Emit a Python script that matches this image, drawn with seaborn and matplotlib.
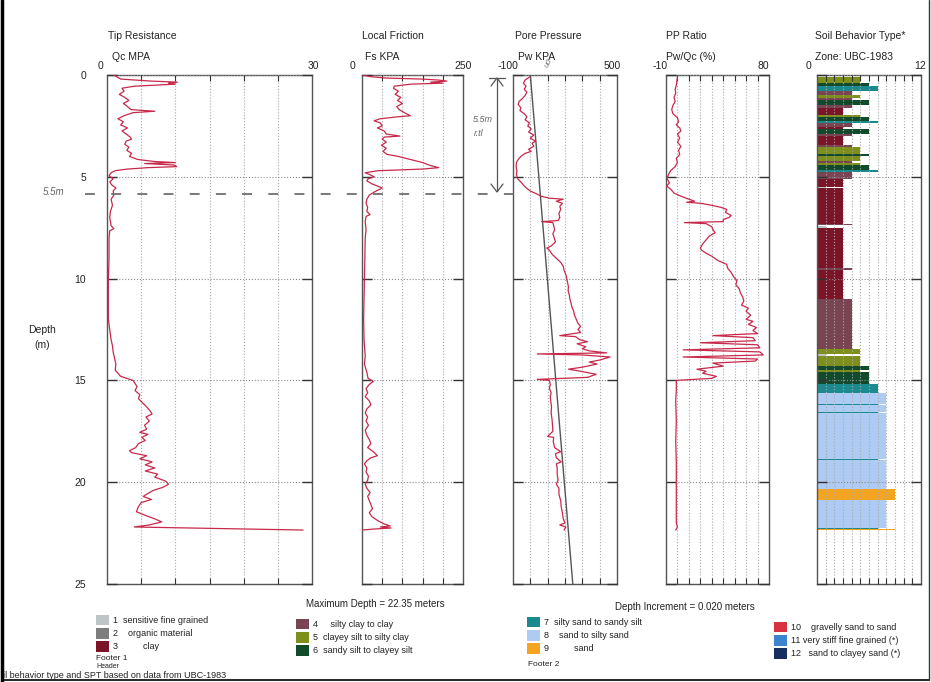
#%% Preparations
import pandas as pd
import matplotlib
matplotlib.use("Agg")
import matplotlib.pyplot as plt
import matplotlib.transforms as mtransforms
from matplotlib.lines import Line2D
from matplotlib.patches import Patch
import seaborn as sns

#%% data read off the log

# tip resistance Qc (MPa)
qc_depth = [0.00, 0.10, 0.20, 0.30, 0.35, 0.40, 0.45, 0.55, 0.65, 0.80, 0.95, 1.10, 1.25, 1.40,
            1.55, 1.70, 1.78, 1.85, 2.00, 2.15, 2.30, 2.45, 2.60, 2.75, 2.90, 3.05, 3.15, 3.25,
            3.40, 3.55, 3.70, 3.85, 4.00, 4.15, 4.25, 4.30, 4.35, 4.42, 4.50, 4.55, 4.62, 4.70,
            4.80, 4.95, 5.10, 5.25, 5.40, 5.55, 5.70, 5.90, 6.10, 6.40, 6.70, 7.00, 7.40, 7.55,
            7.65, 8.00, 9.00, 10.00, 11.00, 12.00, 12.50, 13.00, 13.30, 13.60, 13.90, 14.20,
            14.50, 14.80, 15.00, 15.10, 15.30, 15.50, 15.70, 15.90, 16.10, 16.30, 16.50, 16.65,
            16.80, 17.00, 17.20, 17.40, 17.55, 17.65, 17.80, 17.95, 18.10, 18.30, 18.45, 18.55,
            18.70, 18.85, 19.00, 19.15, 19.30, 19.45, 19.60, 19.75, 19.95, 20.10, 20.25, 20.40,
            20.55, 20.70, 20.85, 21.00, 21.20, 21.45, 21.60, 21.80, 21.95, 22.10, 22.20, 22.35]
qc_val = [1.0, 1.5, 2.0, 6.5, 10.3, 9.0, 10.0, 4.0, 2.2, 2.5, 1.8, 2.6, 3.2, 2.4,
          3.0, 3.5, 7.0, 3.8, 2.5, 1.6, 2.4, 2.0, 3.0, 2.2, 2.8, 3.4, 3.6, 2.8,
          2.6, 3.2, 2.9, 3.6, 3.3, 4.5, 7.0, 10.0, 5.5, 9.8, 10.2, 6.0, 3.0, 1.2,
          0.6, 0.3, 0.9, 0.4, 0.7, 1.3, 0.9, 1.0, 0.6, 0.8, 0.5, 0.4, 0.6, 1.0,
          0.4, 0.3, 0.3, 0.2, 0.2, 0.2, 0.4, 0.6, 0.8, 0.9, 1.1, 1.3,
          1.2, 2.0, 3.8, 4.0, 4.4, 4.1, 4.8, 4.6, 5.2, 5.8, 6.3, 6.6,
          5.7, 6.2, 5.5, 5.8, 4.8, 6.0, 5.1, 5.6, 4.6, 4.2, 3.3, 3.6,
          5.8, 4.8, 6.6, 5.6, 7.0, 5.6, 7.4, 7.0, 8.6, 9.0, 8.2, 6.8,
          6.0, 5.3, 6.5, 5.0, 4.6, 4.3, 5.4, 7.0, 8.0, 6.2, 4.0, 28.7]

# local friction Fs (kPa)
fs_depth = [0.00, 0.08, 0.15, 0.20, 0.25, 0.30, 0.35, 0.40, 0.45, 0.55, 0.65, 0.80, 0.95, 1.10,
            1.25, 1.40, 1.55, 1.70, 1.85, 2.00, 2.05, 2.15, 2.25, 2.35, 2.50, 2.60, 2.75, 2.90,
            3.00, 3.05, 3.15, 3.30, 3.45, 3.60, 3.75, 3.90, 4.00, 4.15, 4.30, 4.45, 4.55, 4.62,
            4.70, 4.80, 4.90, 5.00, 5.10, 5.20, 5.35, 5.45, 5.55, 5.65, 5.75, 5.90, 6.10, 6.30,
            6.50, 6.70, 6.85, 6.95, 7.20, 7.60, 8.00, 9.00, 10.00, 11.00, 12.00, 13.00, 13.80,
            14.20, 14.60, 14.90, 15.05, 15.20, 15.40, 15.60, 15.80, 16.00, 16.20, 16.40, 16.60,
            16.80, 17.00, 17.20, 17.45, 17.70, 17.90, 18.10, 18.30, 18.50, 18.70, 18.80, 18.95,
            19.10, 19.30, 19.50, 19.70, 19.90, 20.10, 20.30, 20.50, 20.70, 20.90, 21.10, 21.30,
            21.50, 21.70, 21.90, 22.05, 22.15, 22.20, 22.25, 22.30, 22.35]
fs_val = [2, 20, 60, 150, 190, 210, 170, 200, 120, 80, 78, 90, 82, 96,
          88, 100, 86, 92, 105, 120, 90, 45, 30, 45, 50, 38, 55, 60,
          94, 55, 50, 60, 48, 60, 52, 62, 90, 120, 150, 170, 190, 150,
          40, 8, 20, 30, 15, 12, 25, 38, 50, 40, 30, 18, 12, 10,
          14, 12, 20, 10, 8, 10, 8, 7, 6, 5, 4, 5, 8,
          6, 12, 15, 28, 18, 10, 14, 8, 18, 22, 12, 8,
          14, 10, 16, 8, 12, 18, 22, 14, 28, 38, 22, 12,
          6, 12, 10, 16, 14, 8, 12, 20, 14, 18, 22, 26,
          18, 25, 40, 55, 70, 45, 72, 30, 0]

# pore pressure Pw (kPa)
pw_depth = [0.10, 0.25, 0.40, 0.55, 0.70, 0.85, 1.00, 1.15, 1.30, 1.45, 1.60, 1.75, 1.90, 2.05,
            2.20, 2.35, 2.50, 2.65, 2.80, 2.95, 3.10, 3.25, 3.35, 3.50, 3.65, 3.75, 3.85, 4.00,
            4.15, 4.30, 4.50, 4.70, 4.90, 5.10, 5.30, 5.50, 5.70, 5.85, 5.95, 6.05, 6.10, 6.20,
            6.30, 6.45, 6.60, 6.80, 7.00, 7.15, 7.20, 7.25, 7.40, 7.60, 7.80, 8.00, 8.20, 8.40,
            8.50, 8.60, 8.80, 9.00, 9.20, 9.40, 9.60, 9.80, 10.00, 10.20, 10.40, 10.60, 10.80,
            11.00, 11.20, 11.40, 11.60, 11.80, 12.00, 12.20, 12.35, 12.50, 12.65, 12.80, 12.85,
            13.00, 13.10, 13.20, 13.35, 13.45, 13.55, 13.65, 13.70, 13.75, 13.85, 14.00, 14.10,
            14.20, 14.35, 14.45, 14.55, 14.70, 14.85, 14.95, 15.00, 15.20, 15.40, 15.60, 15.80,
            16.00, 16.30, 16.60, 16.90, 17.20, 17.50, 17.75, 17.80, 18.00, 18.30, 18.50, 18.60,
            18.80, 19.00, 19.10, 19.30, 19.60, 19.90, 20.10, 20.30, 20.60, 20.90, 21.20, 21.50,
            21.80, 22.00, 22.10, 22.20, 22.35]
pw_val = [-5, -30, -40, -25, -35, -20, -30, -45, -65, -70, -55, -60, -35, -20,
          -30, -5, -15, 5, -10, 20, 0, 30, 10, 20, -10, 5, -30, -55,
          -70, -80, -82, -78, -80, -72, -50, -30, 0, 40, 60, 110, 190, 150,
          185, 170, 175, 165, 170, 160, 65, 130, 135, 140, 130, 138, 145, 120,
          95, 110, 125, 150, 175, 190, 195, 205, 210, 215, 220, 218, 225,
          228, 235, 240, 250, 255, 265, 275, 290, 275, 290, 170, 260,
          285, 330, 270, 320, 300, 340, 440, 40, 300, 460, 400, 340,
          385, 300, 220, 290, 380, 330, 40, 110, 115, 110, 120, 115,
          118, 122, 120, 125, 128, 130, 100, 135, 132, 140, 175, 145,
          150, 178, 150, 155, 155, 160, 150, 165, 165, 175, 178, 185,
          190, 200, 170, 205, 195]

# hydrostatic line u0 (kPa)
u0_depth = [0, 25]
u0_val = [0, 245]

# pore pressure ratio Pw/Qc (%)
ppr_depth = [0.10, 0.30, 0.50, 0.70, 0.90, 1.10, 1.30, 1.50, 1.70, 1.90, 2.10, 2.30, 2.45, 2.60,
             2.75, 2.90, 3.10, 3.30, 3.50, 3.70, 3.90, 4.10, 4.30, 4.50, 4.70, 4.90, 5.10, 5.30,
             5.45, 5.60, 5.80, 5.95, 6.10, 6.20, 6.25, 6.30, 6.40, 6.50, 6.60, 6.75, 6.90, 7.00,
             7.10, 7.20, 7.25, 7.30, 7.45, 7.60, 7.75, 7.90, 8.10, 8.30, 8.50, 8.60, 8.75, 8.90,
             9.10, 9.30, 9.50, 9.70, 9.90, 10.10, 10.30, 10.50, 10.70, 10.90, 11.10, 11.30, 11.45,
             11.60, 11.80, 12.00, 12.10, 12.25, 12.40, 12.55, 12.70, 12.80, 12.90, 13.05, 13.15,
             13.25, 13.40, 13.50, 13.60, 13.75, 13.85, 13.95, 14.05, 14.15, 14.30, 14.45, 14.55,
             14.65, 14.80, 14.90, 15.00, 15.50, 16.00, 17.00, 18.00, 19.00, 20.00, 21.00, 22.00,
             22.20, 22.35]
ppr_val = [0, -0.5, -1, -2, -1.5, -3, -2, -4, -5, -4, 0, 1, -1, 2,
           3, 0, 2, 0, 3, 1, 2, -1, 0, -2, -6, -8, -9, -7,
           -9.5, -6, -3, 3, 10, 15, 8, 20, 30, 38, 43, 42, 47, 45,
           40, 40, 6, 25, 30, 31, 33, 28, 25, 22, 20, 21, 25, 30,
           35, 43, 44, 47, 49, 52, 51, 54, 55, 57, 58, 56, 62,
           60, 64, 60, 66, 62, 69, 66, 70, 31, 66, 68, 20,
           70, 72, 5, 72, 75, 5, 70, 68, 31, 40, 17, 25,
           22, 34, 30, -1, -1, -1.5, -1, -1.5, -1, -1, -1, -1,
           0, -1.5]

# soil behaviour type layers: top, bottom (m) and zone
sbt_top = [0.10, 0.40, 0.55, 0.80, 1.00, 1.15, 1.25, 1.45, 1.60, 1.95, 2.05, 2.25, 2.35, 2.55,
           2.65, 2.90, 3.00, 3.45, 3.55, 3.90, 4.00, 4.20, 4.30, 4.40, 4.65, 4.75, 5.10, 5.50,
           5.55, 7.30, 7.40, 7.50, 9.50, 9.58, 11.00, 13.45, 13.70, 13.78, 14.30, 14.50, 14.60,
           15.20, 15.60, 16.15, 16.22, 16.55, 16.62, 18.85, 18.92, 20.35, 20.85, 22.25, 22.30]
sbt_bottom = [0.40, 0.55, 0.80, 1.00, 1.15, 1.25, 1.45, 1.60, 1.95, 2.05, 2.25, 2.35, 2.55, 2.65,
              2.90, 3.00, 3.45, 3.55, 3.90, 4.00, 4.20, 4.30, 4.40, 4.65, 4.75, 5.10, 5.50, 5.55,
              7.30, 7.38, 7.50, 9.50, 9.58, 11.00, 13.45, 13.70, 13.78, 14.30, 14.50, 14.60, 15.20,
              15.60, 16.15, 16.22, 16.55, 16.62, 18.85, 18.92, 20.35, 20.85, 22.25, 22.30, 22.35]
sbt_zone = [5, 6, 7, 4, 5, 4, 6, 4, 3, 5, 6, 7, 4, 3,
            6, 4, 3, 4, 5, 6, 5, 4, 5, 6, 7, 4, 3, 1,
            3, 4, 1, 3, 4, 3, 4, 5, 1, 5, 6, 5, 6,
            7, 8, 7, 8, 7, 8, 7, 8, 9, 8, 7, 9]

zone_labels = ["1  sensitive fine grained", "2    organic material", "3          clay",
               "4     silty clay to clay", "5  clayey silt to silty clay", "6  sandy silt to clayey silt",
               "7  silty sand to sandy silt", "8    sand to silty sand", "9          sand",
               "10    gravelly sand to sand", "11 very stiff fine grained (*)", "12   sand to clayey sand (*)"]
zone_colors = ["#BFC4C6", "#7D7D7D", "#7A1426", "#7A4552", "#7E8F1C", "#124A2C",
               "#1B8A8E", "#AECBF3", "#F5A420", "#D7323F", "#3C84CE", "#15305E"]

titles = ["Tip Resistance", "Local Friction", "Pore Pressure", "PP Ratio", "Soil Behavior Type*"]
units = ["Qc MPA", "Fs KPA", "Pw KPA", "Pw/Qc (%)", "Zone: UBC-1983"]
x_limits = [(0, 30), (0, 250), (-100, 500), (-10, 80), (0, 12)]
x_limit_labels = [("0", "30"), ("0", "250"), ("-100", "500"), ("-10", "80"), ("0", "12")]
x_grids = [[5, 10, 15, 20, 25], [50, 100, 150, 200], [0, 100, 200, 300, 400],
           [0, 10, 20, 30, 40, 50, 60, 70], list(range(1, 12))]
depth_ticks = [0, 5, 10, 15, 20, 25]

#%% figure
W, H = 931, 682
def fx(x):
    return x / W
def fy(y):
    return 1 - y / H

sns.set_style("white")
plt.rcParams['font.family'] = ['Liberation Sans', 'DejaVu Sans']
txt = "#222222"
red = "#C8294A"

fig = plt.figure(figsize=(9.31, 6.82), dpi=100)

panel_px = [(107, 312), (362, 463), (513, 617), (666, 769), (817, 921)]
top_px, bot_px = 75, 584
title_px = [(108, 112), (362, 365), (515, 518), (666, 666), (815, 815)]
lim_px = [(100, 313), (352, 463), (508, 612), (660, 763), (808, 920)]

axes = []
for i, (l, r) in enumerate(panel_px):
    ax = fig.add_axes([fx(l), fy(bot_px), (r - l) / W, (bot_px - top_px) / H])
    axes.append(ax)

    # titles and range labels
    fig.text(fx(title_px[i][0]), fy(36), titles[i], fontsize=7.5, color=txt, va="center")
    fig.text(fx(title_px[i][1]), fy(57), units[i], fontsize=7.5, color=txt, va="center")
    fig.text(fx(lim_px[i][0]), fy(66), x_limit_labels[i][0], fontsize=7.5, color=txt,
             ha="center", va="center")
    fig.text(fx(lim_px[i][1]), fy(66), x_limit_labels[i][1], fontsize=7.5, color=txt,
             ha="center", va="center")

traces = [(qc_depth, qc_val), (fs_depth, fs_val), (pw_depth, pw_val), (ppr_depth, ppr_val)]
for ax, (d, v) in zip(axes[:4], traces):
    df = pd.DataFrame({"depth": d, "value": v})
    sns.lineplot(data=df, x="value", y="depth", orient="y", sort=False, estimator=None,
                 color=red, lw=0.9, ax=ax, zorder=4)

# hydrostatic line
sns.lineplot(x=u0_val, y=u0_depth, orient="y", sort=False, estimator=None,
             color="#555555", lw=1.0, ax=axes[2], zorder=3)

# soil behaviour type bars
sbt = pd.DataFrame({"top": sbt_top, "bottom": sbt_bottom, "zone": sbt_zone})
axes[4].barh(y=sbt["top"], width=sbt["zone"], height=sbt["bottom"] - sbt["top"],
             align="edge", color=[zone_colors[z - 1] for z in sbt["zone"]], lw=0, zorder=1)

for i, ax in enumerate(axes):
    ax.set_xlim(*x_limits[i])
    ax.set_ylim(25, 0)
    ax.set_xticks(x_grids[i])
    ax.set_yticks(depth_ticks)
    ax.set_axisbelow(False)
    ax.grid(True, axis="x", linestyle=":", color="#aaaaaa", lw=0.8, zorder=2)
    ax.grid(True, axis="y", linestyle=":", color="#8a8a8a", lw=0.8, zorder=2)
    ax.tick_params(axis="x", direction="in", top=True, bottom=True, labeltop=False,
                   labelbottom=False, length=4, width=0.8, color="#333333")
    ax.tick_params(axis="y", direction="in", left=True, right=True, labelleft=(i == 0),
                   length=7, width=1.0, color="#333333", pad=15, labelsize=7.5, labelcolor=txt)
    ax.set_xlabel("")
    ax.set_ylabel("")
    for s in ax.spines.values():
        s.set_color("#555555")
        s.set_linewidth(1.0)

fig.text(fx(42), fy(330), "Depth", fontsize=7.5, color=txt, ha="center", va="center")
fig.text(fx(42), fy(345), "(m)", fontsize=7.5, color=txt, ha="center", va="center")

# hand marks: 5.5 m dashed line, arrow and u0 note
blend = mtransforms.blended_transform_factory(fig.transFigure, axes[0].transData)
fig.add_artist(Line2D([fx(85), fx(525)], [5.85, 5.85], transform=blend,
                      color="#6e6e6e", lw=1.3, ls=(0, (5.5, 9)), zorder=5))
fig.text(fx(43), fy(192), "5.5m", fontsize=7, color="#666666", va="center", style="italic")
fig.add_artist(Line2D([fx(497), fx(497)], [fy(79), fy(191)], color="#555555", lw=0.9,
                      zorder=5))
fig.add_artist(Line2D([fx(491), fx(497), fx(503)], [fy(86), fy(78), fy(86)],
                      color="#555555", lw=0.9, zorder=5))
fig.add_artist(Line2D([fx(491), fx(497), fx(503)], [fy(184), fy(192), fy(184)],
                      color="#555555", lw=0.9, zorder=5))
fig.add_artist(Line2D([fx(489), fx(505)], [fy(78), fy(78)], color="#555555", lw=0.9))
fig.text(fx(473), fy(120), "5.5m", fontsize=6.5, color="#666666", va="center", style="italic")
fig.text(fx(474), fy(134), "r.tl", fontsize=6.5, color="#666666", va="center", style="italic")
fig.text(fx(549), fy(63), "u0", fontsize=6, color="#777777", rotation=60,
         ha="center", va="center", style="italic")

fig.text(fx(375), fy(604), "Maximum Depth = 22.35 meters", fontsize=7, color=txt,
         ha="center", va="center")
fig.text(fx(685), fy(607), "Depth Increment = 0.020 meters", fontsize=7, color=txt,
         ha="center", va="center")

# zone legend, four columns of three
legend_px = [(96, 615), (296, 619), (527, 617), (774, 622)]
for c, (lx, ly) in enumerate(legend_px):
    handles = [Patch(facecolor=zone_colors[k], edgecolor="none", label=zone_labels[k])
               for k in range(3 * c, 3 * c + 3)]
    fig.legend(handles=handles, loc="upper left", bbox_to_anchor=(fx(lx), fy(ly)),
               frameon=False, fontsize=6.5, handlelength=1.4, handleheight=1.4,
               handletextpad=0.5, labelspacing=0.3, borderpad=0, borderaxespad=0,
               labelcolor=txt)

fig.text(fx(96), fy(659), "Footer 1", fontsize=6, color=txt, va="center")
fig.text(fx(96), fy(666.5), "Header", fontsize=5, color=txt, va="center")
fig.text(fx(528), fy(664), "Footer 2", fontsize=6, color=txt, va="center")
fig.text(fx(3), fy(676), "il behavior type and SPT based on data from UBC-1983", fontsize=6.5,
         color=txt, va="center", zorder=6)

# page frame
fig.add_artist(Line2D([fx(2), fx(2)], [0, 1], color="black", lw=2.5))
fig.add_artist(Line2D([fx(2), fx(929)], [fy(680), fy(680)], color="black", lw=1.2))
fig.add_artist(Line2D([fx(929), fx(929)], [fy(680), 1], color="#333333", lw=1.0))

fig.savefig("out.png", dpi=100)
